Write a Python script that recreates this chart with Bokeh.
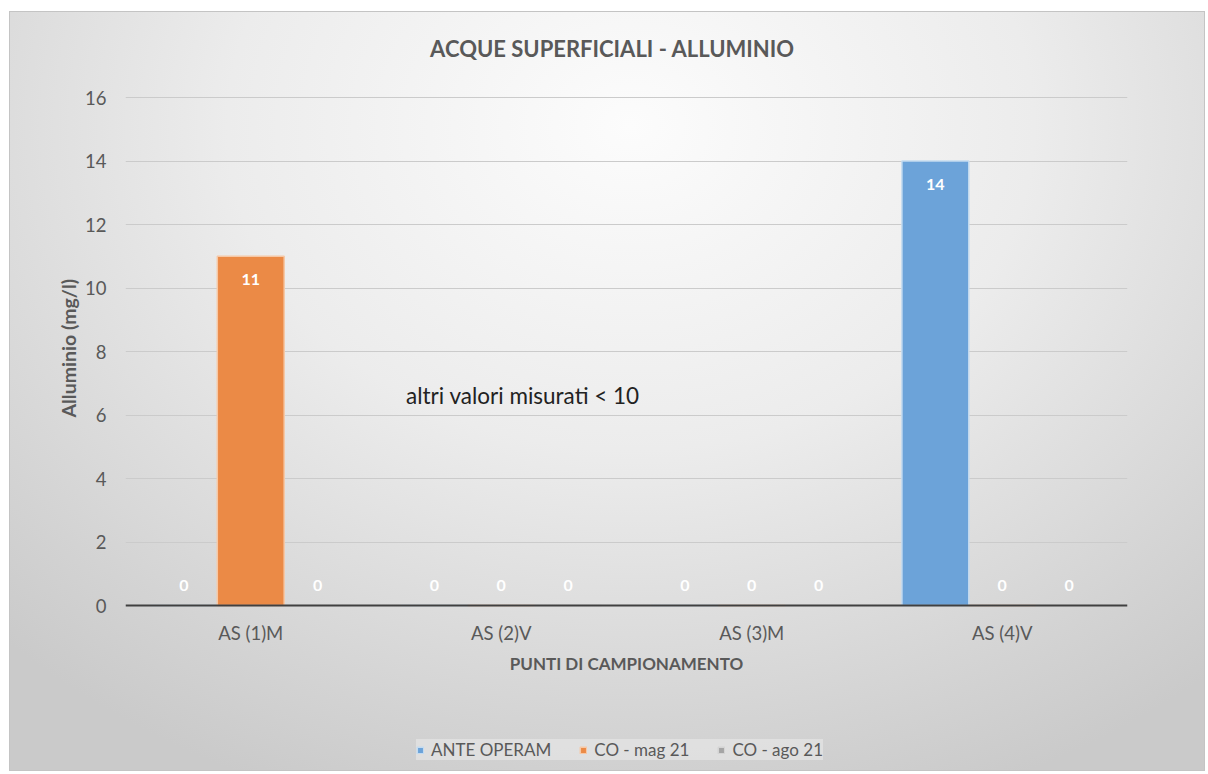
from bokeh.plotting import figure
from bokeh.models import (ColumnDataSource, FactorRange, LabelSet, Label, Legend,
                          LegendItem, Range1d, FixedTicker, Title)
from bokeh.transform import dodge
from bokeh.embed import file_html
from bokeh.resources import INLINE
from bokeh.core.properties import value

# ---- data ----
categories = ["AS (1)M", "AS (2)V", "AS (3)M", "AS (4)V"]
series_names = ["ANTE OPERAM", "CO - mag 21", "CO - ago 21"]
ante_operam = [0, 0, 0, 14]
co_mag21 = [11, 0, 0, 0]
co_ago21 = [0, 0, 0, 0]
y_ticks = [0, 2, 4, 6, 8, 10, 12, 14, 16]

title_text = "ACQUE SUPERFICIALI - ALLUMINIO"
x_title = "PUNTI DI CAMPIONAMENTO"
y_title = "Alluminio (mg/l)"
note_text = "altri valori misurati  < 10"

FONT = "Lato"
TXT = "#595959"

series_values = [ante_operam, co_mag21, co_ago21]
fills = ["#6CA3D9", "#EB8A46", "#A5A5A5"]
lines = ["#C4DBF0", "#F6C8A6", "#D4D4D4"]
offsets = [-0.267, 0.0, 0.267]

data = {"cat": categories}
for i, vals in enumerate(series_values):
    data[f"s{i}"] = vals
    data[f"t{i}"] = [str(v) for v in vals]
    data[f"o{i}"] = [-23 if v > 0 else 20 for v in vals]
source = ColumnDataSource(data)

# layout: frame spans the full canvas height; value 0 at 605px, 16 at 97px
PX_PER_UNIT = (605 - 97) / 16.0
Y_START = -(772 - 605) / PX_PER_UNIT
Y_END = 16 + (97 - 12) / PX_PER_UNIT

p = figure(width=1196, height=760, output_backend="svg", toolbar_location=None,
           title=None,
           x_range=FactorRange(factors=categories, range_padding=0),
           y_range=Range1d(Y_START, Y_END),
           min_border_left=115, min_border_right=79, min_border_top=0,
           min_border_bottom=0)
p.margin = (11, 0, 0, 9)

p.styles = {"background": "radial-gradient(ellipse 75% 95% at 52% 15%, #fcfcfc 0%, #ececec 45%, #d3d3d3 85%, #cacaca 100%)",
            "border": "1px solid #c4c4c4"}
p.background_fill_color = None
p.border_fill_color = None
p.outline_line_color = None

renderers = []
for i in range(3):
    r = p.vbar(x=dodge("cat", offsets[i], range=p.x_range), top=f"s{i}", width=0.267,
               source=source, fill_color=fills[i], line_color=lines[i], line_width=1.5)
    renderers.append(r)
    p.add_layout(LabelSet(x=dodge("cat", offsets[i], range=p.x_range), y=f"s{i}",
                          text=f"t{i}", y_offset=f"o{i}", source=source,
                          text_color="white", text_font=value(FONT), text_font_style="bold",
                          text_font_size="16px", text_align="center",
                          text_baseline="middle"))

# axes
ticker = FixedTicker(ticks=y_ticks)
p.yaxis.ticker = ticker
p.ygrid.ticker = ticker
p.yaxis.axis_line_color = None
p.yaxis.major_tick_line_color = None
p.yaxis.minor_tick_line_color = None
p.yaxis.major_label_text_font = FONT
p.yaxis.major_label_text_font_size = "18.5px"
p.yaxis.major_label_text_color = TXT
p.yaxis.major_label_standoff = 13

# y axis title (left panel, positioned along the plot area)
p.add_layout(Title(text=y_title, align="left", offset=355, standoff=6,
                   text_font=FONT, text_font_style="bold", text_font_size="19.5px",
                   text_color=TXT), "left")

p.xaxis.fixed_location = 0
p.xaxis.axis_line_color = "#404040"
p.xaxis.axis_line_width = 2
p.xaxis.major_tick_line_color = None
p.xaxis.minor_tick_line_color = None
p.xaxis.major_label_text_font = FONT
p.xaxis.major_label_text_font_size = "18.5px"
p.xaxis.major_label_text_color = TXT
p.xaxis.major_label_standoff = 10
p.xaxis.axis_label = x_title
p.xaxis.axis_label_text_font = FONT
p.xaxis.axis_label_text_font_style = "bold"
p.xaxis.axis_label_text_font_size = "17px"
p.xaxis.axis_label_text_color = TXT
p.xaxis.axis_label_standoff = 6

p.xgrid.grid_line_color = None
p.ygrid.grid_line_color = "#cbcbcb"
p.ygrid.grid_line_width = 1

# chart title
p.add_layout(Label(x=1.944, y=16 + (97 - 48) / PX_PER_UNIT, text=title_text, text_font=FONT,
                   text_font_style="bold", text_font_size="22px", text_color=TXT,
                   text_align="center", text_baseline="middle"))

# note
p.add_layout(Label(x=1.12, y=6.6, text=note_text, text_font=FONT,
                   text_font_size="22.5px", text_color="#222222", text_align="left",
                   text_baseline="middle"))

legend = Legend(items=[LegendItem(label=series_names[i], renderers=[renderers[i]]) for i in range(3)],
                orientation="horizontal", location=(291, 12),
                glyph_width=8, glyph_height=8, spacing=28, padding=8, margin=0,
                label_text_font=FONT, label_text_font_size="17px", label_text_color=TXT,
                label_standoff=7, background_fill_color="#e6e6e6", background_fill_alpha=0.7,
                border_line_color=None)
p.add_layout(legend)

open("out.html", "w").write(file_html(p, INLINE))
